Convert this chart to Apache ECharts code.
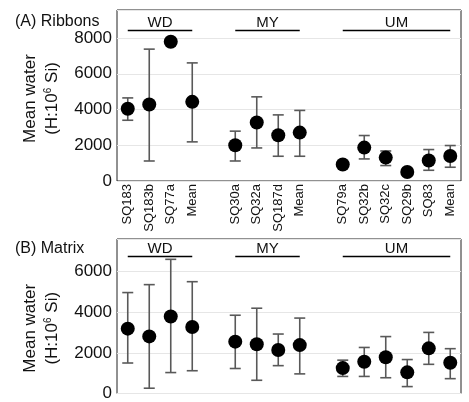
<!DOCTYPE html>
<html>
<head>
<meta charset="utf-8">
<script src="https://cdn.jsdelivr.net/npm/echarts@6/dist/echarts.min.js"></script>
<style>
  html, body { margin: 0; padding: 0; background: #fff; }
  #chart { width: 469px; height: 402px; }
</style>
</head>
<body>
<div id="chart"></div>
<script>
  // categories, '' = spacer between the sample groups
  var categories = ['SQ183', 'SQ183b', 'SQ77a', 'Mean', '',
                    'SQ30a', 'SQ32a', 'SQ187d', 'Mean', '',
                    'SQ79a', 'SQ32b', 'SQ32c', 'SQ29b', 'SQ83', 'Mean'];
  var groups = ['WD', 'MY', 'UM'];
  var groupFrom = [0, 5, 10];
  var groupTo = [3, 8, 15];

  // (A) Ribbons : mean, lower, upper  (null = no error bar / spacer)
  var ribbonMean = [4040, 4280, 7790, 4430, null, 2000, 3270, 2560, 2710, null, 920, 1870, 1310, 505, 1145, 1400];
  var ribbonLow  = [3400, 1120, null, 2190, null, 1120, 1850, 1385, 1385, null, null, 1235, 865, null, 600, 770];
  var ribbonHigh = [4650, 7380, null, 6610, null, 2790, 4710, 3700, 3950, null, null, 2545, 1680, null, 1760, 1985];

  // (B) Matrix
  var matrixMean = [3190, 2810, 3790, 3270, null, 2550, 2420, 2140, 2380, null, 1250, 1560, 1780, 1040, 2220, 1510];
  var matrixLow  = [1500, 260, 1030, 1120, null, 1230, 650, 1370, 965, null, 840, 840, 775, 340, 1435, 730];
  var matrixHigh = [4965, 5355, 6600, 5500, null, 3850, 4195, 2925, 3710, null, 1640, 2265, 2800, 1670, 3005, 2205];

  var yTicks = [0, 2000, 4000, 6000, 8000];

  function points(mean) {
    var out = [];
    mean.forEach(function (v, i) { if (v != null) out.push([i, v]); });
    return out;
  }
  function bars(low, high) {
    var out = [];
    low.forEach(function (v, i) { if (v != null) out.push([i, v, high[i]]); });
    return out;
  }
  function headers(y) {
    return groups.map(function (g, k) {
      return [{ coord: [groupFrom[k], y], name: g }, { coord: [groupTo[k], y] }];
    });
  }

  function renderBar(params, api) {
    var x = api.value(0);
    var lo = api.coord([x, api.value(1)]);
    var hi = api.coord([x, api.value(2)]);
    var w = 5.5;
    var style = { stroke: '#595959', lineWidth: 1.6 };
    return {
      type: 'group',
      children: [
        { type: 'line', shape: { x1: lo[0], y1: lo[1], x2: hi[0], y2: hi[1] }, style: style },
        { type: 'line', shape: { x1: lo[0] - w, y1: lo[1], x2: lo[0] + w, y2: lo[1] }, style: style },
        { type: 'line', shape: { x1: hi[0] - w, y1: hi[1], x2: hi[0] + w, y2: hi[1] }, style: style }
      ]
    };
  }

  var font = 'Liberation Sans, Arial, sans-serif';

  function yAxis(idx, max, pad) {
    return {
      type: 'value', gridIndex: idx, min: 0, max: max, interval: 2000,
      name: 'Mean water\n(H:10{sup|6} Si)',
      nameLocation: 'middle', nameGap: 45, nameRotate: 90,
      nameTextStyle: {
        fontFamily: font, fontSize: 17, color: '#111', lineHeight: 22, padding: pad,
        rich: { sup: { fontFamily: font, fontSize: 10, color: '#111', padding: [0, 0, 8, 0] } }
      },
      axisLine: { show: false }, axisTick: { show: false },
      axisLabel: {
        fontFamily: font, fontSize: 17, color: '#111', margin: 5, showMaxLabel: false,
        formatter: function (v) { return yTicks.indexOf(v) >= 0 ? String(v) : ''; }
      },
      splitLine: { lineStyle: { color: '#e6e6e6', width: 1 } }
    };
  }

  function xAxis(idx, labels) {
    return {
      type: 'category', gridIndex: idx, data: categories, boundaryGap: true,
      axisLine: { show: false }, axisTick: { show: false },
      axisLabel: { show: labels, interval: 0, rotate: 90, margin: 3, fontFamily: font, fontSize: 13, color: '#111' },
      splitLine: { show: false }
    };
  }

  function markHeaders(y) {
    return {
      silent: true, symbol: 'none', animation: false,
      lineStyle: { color: '#000', width: 1.3, type: 'solid' },
      label: { show: true, position: 'middle', distance: 0, formatter: '{b}', fontFamily: font, fontSize: 15, color: '#111' },
      data: headers(y)
    };
  }

  var chart = echarts.init(document.getElementById('chart'));
  chart.setOption({
    animation: false,
    backgroundColor: '#fff',
    title: [
      { text: '(A) Ribbons', left: 15, top: 14, padding: 0, textStyle: { fontFamily: font, fontSize: 16, fontWeight: 'normal', color: '#111' } },
      { text: '(B) Matrix', left: 15, top: 241, padding: 0, textStyle: { fontFamily: font, fontSize: 16, fontWeight: 'normal', color: '#111' } }
    ],
    grid: [
      { left: 117, right: 8, top: 10, height: 171, show: true, borderColor: '#222', borderWidth: 1, backgroundColor: '#fff' },
      { left: 117, right: 8, top: 239, height: 161, show: true, borderColor: '#222', borderWidth: 1, backgroundColor: '#fff' }
    ],
    xAxis: [xAxis(0, true), xAxis(1, false)],
    yAxis: [yAxis(0, 9570, [0, 6, 0, 0]), yAxis(1, 7600, [0, 24, 0, 0])],
    series: [
      { type: 'custom', xAxisIndex: 0, yAxisIndex: 0, renderItem: renderBar, data: bars(ribbonLow, ribbonHigh), z: 2 },
      { type: 'scatter', xAxisIndex: 0, yAxisIndex: 0, data: points(ribbonMean), symbolSize: 14,
        itemStyle: { color: '#000', opacity: 1 }, z: 3, markLine: markHeaders(8450) },
      { type: 'custom', xAxisIndex: 1, yAxisIndex: 1, renderItem: renderBar, data: bars(matrixLow, matrixHigh), z: 2 },
      { type: 'scatter', xAxisIndex: 1, yAxisIndex: 1, data: points(matrixMean), symbolSize: 14,
        itemStyle: { color: '#000', opacity: 1 }, z: 3, markLine: markHeaders(6750) }
    ]
  });
</script>
</body>
</html>
